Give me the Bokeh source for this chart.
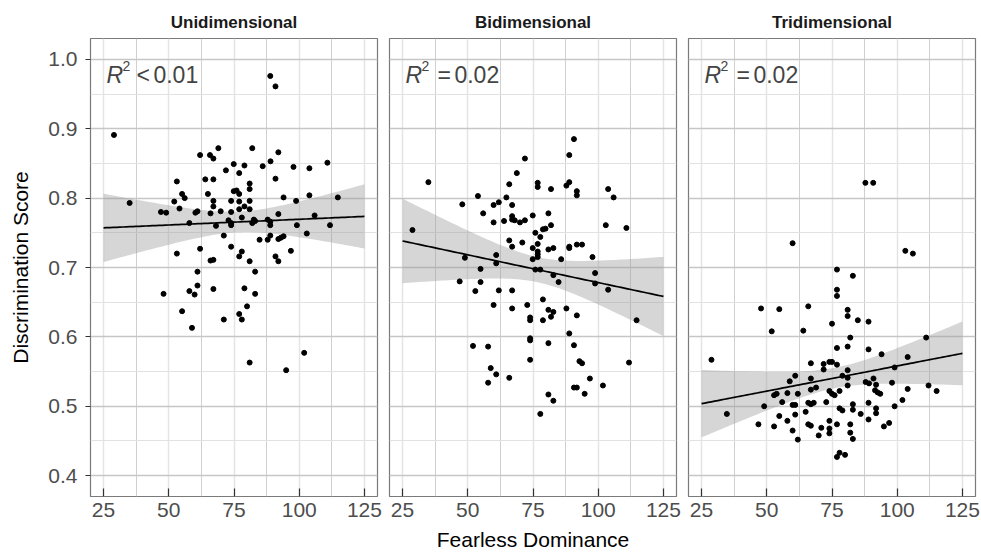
import numpy as np
from bokeh.plotting import figure
from bokeh.layouts import row
from bokeh.models import FixedTicker, PrintfTickFormatter, Label, Range1d
from bokeh.embed import file_html
from bokeh.resources import INLINE

# ---------------- data ----------------
panel_titles = ["Unidimensional", "Bidimensional", "Tridimensional"]
r2_ops = ["<", "=", "="]
r2_vals = ["0.01", "0.02", "0.02"]
x_title = "Fearless Dominance"
y_title = "Discrimination Score"

uni_x = [88.9, 90.9, 29.0, 62.0, 65.8, 67.1, 69.0, 82.0, 92.0, 71.9, 74.9, 79.0, 86.0, 89.0,
         97.8, 103.9, 110.8, 77.0, 53.1, 64.0, 67.1, 90.9, 81.0, 81.0, 74.9, 76.0, 77.0, 65.0,
         55.1, 56.1, 94.0, 103.9, 114.8, 35.0, 52.1, 67.1, 81.0, 73.9, 77.0, 98.8,
         47.0, 49.0, 54.1, 60.2, 61.0, 66.0, 67.1, 69.9, 73.9, 77.0, 79.0, 81.0,
         57.9, 68.1, 72.9, 73.9, 73.9, 78.0, 82.0, 83.1, 82.6, 87.9, 88.9, 88.9, 92.0, 99.1,
         105.9, 111.8,
         71.1, 84.8, 87.9, 88.9, 92.0, 93.0, 94.0, 102.9,
         53.1, 62.0, 73.9, 78.0, 77.0, 66.0, 67.1, 81.0, 90.9, 92.0, 96.8,
         61.0, 83.1,
         48.0, 57.9, 59.9, 61.0, 67.1, 79.0, 83.1,
         55.1, 80.0, 77.0, 78.0, 71.1,
         58.9,
         101.9, 81.0, 95.0]
uni_y = [0.976, 0.961, 0.891, 0.862, 0.862, 0.857, 0.872, 0.872, 0.866, 0.840, 0.849, 0.847, 0.846, 0.853,
         0.845, 0.843, 0.851, 0.836, 0.824, 0.827, 0.827, 0.828, 0.821, 0.813, 0.810, 0.811, 0.806, 0.806,
         0.806, 0.800, 0.801, 0.804, 0.801, 0.793, 0.795, 0.796, 0.796, 0.796, 0.795, 0.796,
         0.780, 0.779, 0.785, 0.779, 0.781, 0.778, 0.788, 0.781, 0.780, 0.784, 0.788, 0.784,
         0.764, 0.760, 0.768, 0.764, 0.761, 0.772, 0.764, 0.767, 0.769, 0.769, 0.766, 0.761, 0.777, 0.761,
         0.775, 0.761,
         0.746, 0.740, 0.740, 0.746, 0.741, 0.743, 0.745, 0.749,
         0.720, 0.727, 0.730, 0.723, 0.716, 0.710, 0.711, 0.709, 0.716, 0.709, 0.724,
         0.694, 0.694,
         0.662, 0.666, 0.661, 0.674, 0.669, 0.670, 0.662,
         0.637, 0.644, 0.633, 0.625, 0.625,
         0.613,
         0.577, 0.563, 0.552]

bi_x = [90.7, 88.9, 71.9, 34.9, 68.8, 65.9, 76.8, 76.8, 81.9, 87.8, 88.9, 91.8, 91.8, 103.8, 105.9,
        53.9, 64.8,
        47.9, 59.9, 61.9, 67.0, 55.9, 59.9, 63.9, 67.0, 67.0, 68.0, 70.0, 71.9, 74.9, 80.9, 75.9,
        77.8, 78.8, 79.8, 81.9, 102.9, 110.8, 28.8,
        65.9, 67.0, 70.9, 74.9, 76.8, 76.8, 76.8, 76.8, 74.9, 80.9, 82.8, 85.8, 88.9, 88.9, 91.8,
        93.8, 97.8,
        48.9, 60.9, 60.9, 54.9, 75.9, 77.8, 82.8, 84.8, 98.8, 98.8, 103.8,
        46.9, 54.9, 52.9, 61.9, 67.0,
        78.8, 59.9, 67.0, 72.8, 87.8, 80.9, 82.8, 81.9, 73.9, 73.9, 78.8, 91.8, 114.7,
        88.9, 73.9, 73.9, 80.9, 90.7, 52.0, 57.8,
        73.9, 92.8, 93.8, 111.8,
        58.8, 60.9, 57.8, 65.9, 96.8, 90.7, 91.8, 101.8, 94.8, 80.9, 82.8,
        77.8]
bi_y = [0.885, 0.862, 0.857, 0.823, 0.836, 0.820, 0.822, 0.816, 0.813, 0.818, 0.823, 0.810, 0.804, 0.813, 0.801,
        0.803, 0.801,
        0.791, 0.790, 0.794, 0.790, 0.778, 0.765, 0.767, 0.774, 0.769, 0.768, 0.765, 0.768, 0.775, 0.778, 0.750,
        0.744, 0.755, 0.756, 0.761, 0.761, 0.757, 0.754,
        0.739, 0.730, 0.736, 0.728, 0.734, 0.723, 0.719, 0.715, 0.712, 0.726, 0.728, 0.712, 0.730, 0.728, 0.733,
        0.733, 0.715,
        0.714, 0.718, 0.706, 0.698, 0.697, 0.697, 0.689, 0.679, 0.692, 0.677, 0.668,
        0.680, 0.679, 0.666, 0.667, 0.667,
        0.654, 0.646, 0.641, 0.646, 0.641, 0.639, 0.636, 0.629, 0.628, 0.624, 0.624, 0.631, 0.624,
        0.605, 0.598, 0.595, 0.591, 0.588, 0.587, 0.586,
        0.567, 0.565, 0.562, 0.563,
        0.555, 0.546, 0.534, 0.541, 0.540, 0.527, 0.527, 0.530, 0.518, 0.517, 0.508,
        0.489]

tri_x = [87.8, 90.8,
         59.9, 103.1, 106.0, 76.9, 83.0, 76.9, 76.9, 47.8, 54.8, 65.9, 81.0, 81.0, 84.9, 89.0, 75.0,
         51.9, 64.0,
         82.0, 111.1, 76.9, 81.0, 89.0, 94.0, 104.0, 28.8, 66.9, 71.8, 74.0, 75.0, 76.9, 99.0, 71.8,
         81.0, 60.9, 79.0, 81.0, 66.9, 90.9,
         58.8, 87.9, 89.2, 91.9, 98.0, 81.0, 112.0, 115.1, 104.0, 74.0, 75.0, 76.0, 77.9, 66.9, 68.9,
         61.9, 57.9, 53.8, 52.8, 91.5, 92.5, 93.5,
         55.9, 59.9, 60.9, 65.9, 66.9, 68.0, 72.8, 83.0, 89.0, 102.0, 49.0, 99.0, 77.9, 79.0, 83.0,
         86.0, 91.9, 91.9, 34.7, 64.9, 54.8, 60.9, 57.9, 74.0, 89.0, 46.8, 52.8, 65.9, 66.9, 76.9,
         82.0, 96.9, 94.9, 59.9, 70.9, 74.0, 74.0, 82.0, 69.9, 61.9, 83.0, 76.9, 77.9, 80.0]
tri_y = [0.822, 0.822,
         0.735, 0.724, 0.720, 0.697, 0.688, 0.668, 0.659, 0.641, 0.640, 0.644, 0.639, 0.630, 0.624, 0.622, 0.619,
         0.608, 0.609,
         0.599, 0.599, 0.584, 0.586, 0.582, 0.575, 0.571, 0.567, 0.562, 0.561, 0.564, 0.564, 0.560, 0.556, 0.553,
         0.552, 0.544, 0.544, 0.541, 0.540, 0.540,
         0.536, 0.535, 0.533, 0.531, 0.534, 0.530, 0.530, 0.522, 0.525, 0.522, 0.518, 0.516, 0.522, 0.524, 0.527,
         0.518, 0.519, 0.518, 0.516, 0.523, 0.520, 0.518,
         0.506, 0.502, 0.502, 0.505, 0.503, 0.505, 0.506, 0.503, 0.505, 0.509, 0.500, 0.500, 0.497, 0.494, 0.495,
         0.489, 0.497, 0.490, 0.489, 0.492, 0.486, 0.488, 0.479, 0.479, 0.481, 0.474, 0.471, 0.474, 0.472, 0.474,
         0.474, 0.476, 0.471, 0.465, 0.469, 0.468, 0.461, 0.462, 0.458, 0.452, 0.453, 0.427, 0.433, 0.430]

x_ticks = [25, 50, 75, 100, 125]
x_minor = [37.5, 62.5, 87.5, 112.5]
y_ticks = [0.4, 0.5, 0.6, 0.7, 0.8, 0.9, 1.0]
y_minor = [0.45, 0.55, 0.65, 0.75, 0.85, 0.95]

FONT = "Liberation Sans"


def lm_band(x, y, grid, t=1.984):
    x = np.asarray(x, dtype=float)
    y = np.asarray(y, dtype=float)
    n = len(x)
    b, a = np.polyfit(x, y, 1)
    fit = a + b * grid
    resid = y - (a + b * x)
    s = np.sqrt(np.sum(resid ** 2) / (n - 2))
    sxx = np.sum((x - x.mean()) ** 2)
    se = s * np.sqrt(1.0 / n + (grid - x.mean()) ** 2 / sxx)
    return fit, fit - t * se, fit + t * se


def make_panel(i, xs, ys):
    first = i == 0
    p = figure(frame_width=287, frame_height=458,
               min_border_left=90 if first else 6,
               min_border_right=6,
               min_border_top=38, min_border_bottom=58,
               x_range=Range1d(20, 130), y_range=Range1d(0.37, 1.03),
               y_axis_location="left" if first else None,
               output_backend="svg", toolbar_location=None,
               title=panel_titles[i])
    p.background_fill_color = "white"
    p.border_fill_color = "white"
    p.outline_line_color = "#7a7a7a"
    p.outline_line_width = 1.2

    p.title.align = "center"
    p.title.text_font = FONT
    p.title.text_font_size = "17px"
    p.title.text_font_style = "bold"
    p.title.text_color = "#1a1a1a"
    p.title.standoff = 13

    p.xgrid.ticker = FixedTicker(ticks=x_ticks, minor_ticks=x_minor)
    p.xgrid.grid_line_color = "#e4e4e4"
    p.xgrid.grid_line_width = 1.5
    p.xgrid.minor_grid_line_color = "#d0d0d0"
    p.xgrid.minor_grid_line_width = 1.0
    p.ygrid.ticker = FixedTicker(ticks=y_ticks, minor_ticks=y_minor)
    p.ygrid.grid_line_color = "#c6c6c6"
    p.ygrid.grid_line_width = 1.4
    p.ygrid.minor_grid_line_color = "#e2e2e2"
    p.ygrid.minor_grid_line_width = 1.0

    xa = p.xaxis[0]
    xa.ticker = FixedTicker(ticks=x_ticks)
    xa.axis_line_color = None
    xa.major_tick_in = 8
    xa.major_tick_out = 0
    xa.minor_tick_line_color = None
    xa.major_tick_line_color = "#333333"
    xa.major_tick_line_width = 1.2
    xa.major_label_text_font = FONT
    xa.major_label_text_font_size = "21px"
    xa.major_label_text_color = "#4d4d4d"
    xa.major_label_standoff = 6
    if i == 1:
        xa.axis_label = x_title
        xa.axis_label_text_font = FONT
        xa.axis_label_text_font_size = "21px"
        xa.axis_label_text_font_style = "normal"
        xa.axis_label_text_color = "black"
        xa.axis_label_standoff = 8

    if first:
        ya = p.yaxis[0]
        ya.ticker = FixedTicker(ticks=y_ticks)
        ya.formatter = PrintfTickFormatter(format="%.1f")
        ya.axis_line_color = None
        ya.major_tick_in = 0
        ya.major_tick_out = 5
        ya.minor_tick_line_color = None
        ya.major_tick_line_color = "#333333"
        ya.major_tick_line_width = 1.2
        ya.major_label_text_font = FONT
        ya.major_label_text_font_size = "21px"
        ya.major_label_text_color = "#4d4d4d"
        ya.major_label_standoff = 8
        ya.axis_label = y_title
        ya.axis_label_text_font = FONT
        ya.axis_label_text_font_size = "21px"
        ya.axis_label_text_font_style = "normal"
        ya.axis_label_text_color = "black"
        ya.axis_label_standoff = 13

    grid = np.linspace(25, 125, 81)
    fit, lo, hi = lm_band(xs, ys, grid)
    p.varea(x=grid, y1=lo, y2=hi, fill_color="#999999", fill_alpha=0.4)
    p.scatter(xs, ys, size=5, color="black")
    p.line(grid, fit, line_color="black", line_width=1.7)

    # R^2 annotation
    lx, ly = 26.1, 0.978
    op_off, val_off = (30, 47) if r2_ops[i] == "<" else (32, 49)
    p.add_layout(Label(x=lx, y=ly, text="R", text_font=FONT, text_font_size="23px",
                       text_font_style="italic", text_baseline="alphabetic", text_align="left"))
    p.add_layout(Label(x=lx, y=ly, x_offset=16, y_offset=9, text="2", text_font=FONT,
                       text_font_size="14px", text_baseline="alphabetic", text_align="left"))
    p.add_layout(Label(x=lx, y=ly, x_offset=op_off, text=r2_ops[i], text_font=FONT,
                       text_font_size="23px", text_baseline="alphabetic", text_align="left"))
    p.add_layout(Label(x=lx, y=ly, x_offset=val_off, text=r2_vals[i], text_font=FONT,
                       text_font_size="23px", text_baseline="alphabetic", text_align="left"))
    return p


p1 = make_panel(0, uni_x, uni_y)
p2 = make_panel(1, bi_x, bi_y)
p3 = make_panel(2, tri_x, tri_y)

layout = row(p1, p2, p3)
open("out.html", "w").write(file_html(layout, INLINE))
